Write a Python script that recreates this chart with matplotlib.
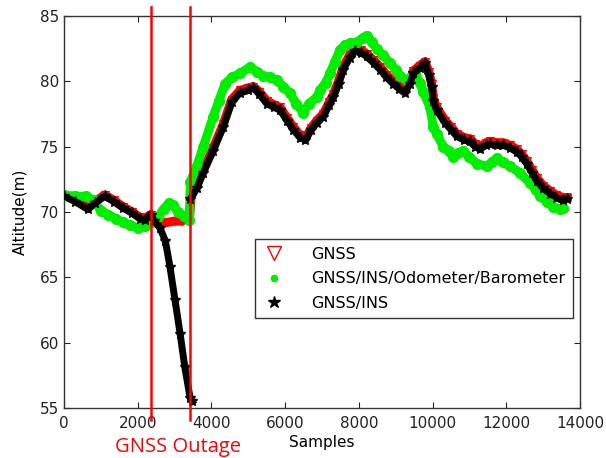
import numpy as np
import matplotlib
matplotlib.use("Agg")
import matplotlib.pyplot as plt
from matplotlib.lines import Line2D

plt.rcParams['font.family'] = ['DejaVu Sans']

# outage window (samples)
outage_start = 2360
outage_end = 3430

# GNSS/INS (black) - NaN splits the drift during the outage from the recovery
ins_x = [0, 300, 650, 850, 1100, 1350, 1600, 1850, 2050, 2200, 2350,
         2450, 2600, 2750, 2875, 3010, 3150, 3280, 3420, 3480, np.nan,
         3430, 3600, 3780, 4050, 4320, 4550, 4775, 5000, 5135, 5300, 5500,
         5700, 5860, 6050, 6220, 6400, 6550, 6700, 6860, 7035, 7200, 7310,
         7450, 7580, 7750, 7895, 8050, 8210, 8400, 8575, 8750, 8935, 9100,
         9250, 9380, 9480, 9650, 9795, 9900, 9975, 10020, 10110, 10340,
         10500, 10650, 10850, 11015, 11150, 11290, 11450, 11560, 11750,
         11920, 12100, 12280, 12420, 12550, 12700, 12825, 13000, 13190,
         13350, 13545, 13650]
ins_y = [71.2, 70.8, 70.2, 70.7, 71.2, 70.8, 70.3, 69.9, 69.5, 69.4, 69.8,
         69.3, 68.8, 67.8, 65.8, 63.3, 60.7, 58.1, 55.8, 55.5, np.nan,
         71.0, 71.8, 73.0, 74.7, 76.5, 78.4, 79.1, 79.3, 79.5, 79.0, 78.3,
         78.0, 77.8, 77.0, 76.3, 75.7, 75.5, 76.3, 76.8, 77.3, 78.2, 78.8,
         79.8, 80.9, 81.8, 82.3, 82.2, 81.9, 81.4, 80.9, 80.3, 79.8, 79.4,
         79.1, 79.8, 80.6, 81.0, 81.4, 80.5, 79.6, 78.5, 77.8, 76.8,
         76.3, 75.8, 75.5, 75.4, 75.0, 74.8, 75.1, 75.2, 75.1,
         75.1, 74.9, 74.6, 74.2, 73.7, 73.0, 72.4, 71.8, 71.4,
         71.1, 70.9, 71.0]

# GNSS (red)
gnss_x = [0, 300, 650, 850, 1100, 1350, 1600, 1850, 2050, 2200, 2350,
          2450, 2600, 2800, 3000, 3200, 3300, 3400,
          3450, 3600, 3780, 4050, 4320, 4550, 4775, 5000, 5135, 5300, 5500,
          5700, 5860, 6050, 6220, 6400, 6550, 6700, 6860, 7035, 7200, 7310,
          7450, 7580, 7750, 7895, 8050, 8210, 8400, 8575, 8750, 8935, 9100,
          9250, 9380, 9480, 9650, 9795, 9900, 9975, 10020, 10110, 10340,
          10500, 10650, 10850, 11015, 11150, 11290, 11450, 11560, 11750,
          11920, 12100, 12280, 12420, 12550, 12700, 12825, 13000, 13190,
          13350, 13545, 13650]
gnss_y = [71.3, 70.9, 70.3, 70.8, 71.3, 70.9, 70.4, 70.0, 69.6, 69.5, 69.8,
          69.5, 69.2, 69.2, 69.3, 69.3, 69.5, 69.4,
          71.2, 72.0, 73.2, 74.9, 76.7, 78.6, 79.3, 79.5, 79.6, 79.2, 78.5,
          78.2, 78.0, 77.2, 76.5, 75.9, 75.6, 76.4, 77.0, 77.5, 78.4, 79.0,
          80.0, 81.1, 82.0, 82.5, 82.4, 82.1, 81.6, 81.1, 80.5, 80.0, 79.6,
          79.3, 80.0, 80.8, 81.2, 81.5, 80.7, 79.8, 78.7, 78.0, 77.0,
          76.5, 76.0, 75.7, 75.6, 75.2, 75.0, 75.3, 75.4, 75.3,
          75.3, 75.1, 74.8, 74.4, 73.9, 73.2, 72.6, 72.0, 71.6,
          71.3, 71.1, 71.1]

# GNSS/INS/Odometer/Barometer (green)
fuse_x = [0, 300, 600, 800, 1000, 1200, 1400, 1600, 1800, 2000, 2200, 2400,
          2550, 2700, 2850, 2950, 3100, 3250, 3400, 3430, 3600, 3780, 4050,
          4200, 4370, 4550, 4775, 5045, 5250, 5410, 5600, 5770, 5950, 6130,
          6300, 6490, 6650, 6860, 6945, 7100, 7215, 7350, 7490, 7620, 7760,
          7950, 8100, 8210, 8350, 8485, 8650, 8845, 9000, 9115, 9300, 9450,
          9520, 9650, 9750, 9930, 10020, 10110, 10290, 10450, 10560, 10700,
          10835, 11000, 11200, 11470, 11600, 11740, 11900, 12100, 12370,
          12645, 12800, 12915, 13100, 13275, 13450, 13545]
fuse_y = [71.3, 71.2, 71.2, 70.9, 70.1, 69.8, 69.5, 69.2, 69.0, 68.8, 68.9, 69.2,
          69.6, 70.2, 70.7, 70.5, 70.0, 69.7, 69.4, 72.3, 73.5, 75.0, 77.3,
          78.5, 79.8, 80.3, 80.6, 81.1, 80.7, 80.4, 80.3, 80.1, 79.6, 79.1,
          78.3, 77.6, 78.3, 78.8, 79.3, 79.9, 80.6, 81.5, 82.4, 82.8, 82.9,
          83.0, 83.3, 83.5, 83.0, 82.5, 82.0, 81.4, 80.9, 80.4, 80.1, 80.4,
          80.6, 79.9, 79.2, 78.0, 76.5, 76.0, 75.0, 74.7, 74.2, 74.5,
          74.7, 74.2, 73.7, 73.5, 73.8, 74.1, 73.8, 73.5, 73.0,
          72.2, 71.7, 71.2, 70.8, 70.4, 70.2, 70.3]

labels = ['GNSS', 'GNSS/INS/Odometer/Barometer', 'GNSS/INS']

fig = plt.figure(figsize=(6.06, 4.58), dpi=100)
ax = fig.add_axes([0.1056, 0.1092, 0.8515, 0.8559])

ax.plot(gnss_x, gnss_y, color='red', lw=6.5, marker='v', ms=6,
        mfc='none', mec='red', mew=0.8, zorder=2)
ax.plot(fuse_x, fuse_y, color='#00ee00', lw=6.5, marker='o', ms=7,
        mec='#00ee00', zorder=3)
ax.plot(ins_x, ins_y, color='black', lw=5, marker='*', ms=8,
        mec='black', zorder=4)

ax.axvline(outage_start, ymin=-0.03, ymax=1.022, color='red', lw=1.8,
           clip_on=False, zorder=5)
ax.axvline(outage_end, ymin=-0.03, ymax=1.022, color='red', lw=1.8,
           clip_on=False, zorder=5)

ax.set_xlim(0, 14000)
ax.set_ylim(55, 85)
ax.set_xticks(range(0, 14001, 2000))
ax.set_yticks(range(55, 86, 5))
ax.tick_params(direction='in', top=True, right=True, length=4,
               labelsize=11, colors='#222222')
ax.tick_params(axis='x', pad=6)
for s in ax.spines.values():
    s.set_color('#333333')
    s.set_linewidth(1.0)

ax.set_xlabel('Samples', fontsize=11, labelpad=3)
ax.set_ylabel('Altitude(m)', fontsize=11, labelpad=9)
ax.text(3093, -0.112, 'GNSS Outage', transform=ax.get_xaxis_transform(),
        color='red', fontsize=14.5, ha='center', va='baseline',
        family=['Open Sans', 'DejaVu Sans'])

handles = [
    Line2D([], [], ls='none', marker='v', ms=10, mfc='none', mec='red', mew=1),
    Line2D([], [], ls='none', marker='o', ms=4.5, color='#00ee00'),
    Line2D([], [], ls='none', marker='*', ms=9, color='black'),
]
leg = ax.legend(handles, labels, loc='upper right',
                bbox_to_anchor=(0.986, 0.43), borderaxespad=0,
                fontsize=11.5, frameon=True,
                fancybox=False, edgecolor='black', handletextpad=1.6,
                borderpad=0.45, labelspacing=0.6, handlelength=1.5)
leg.get_frame().set_linewidth(1.0)

fig.savefig('out.png', dpi=100)
